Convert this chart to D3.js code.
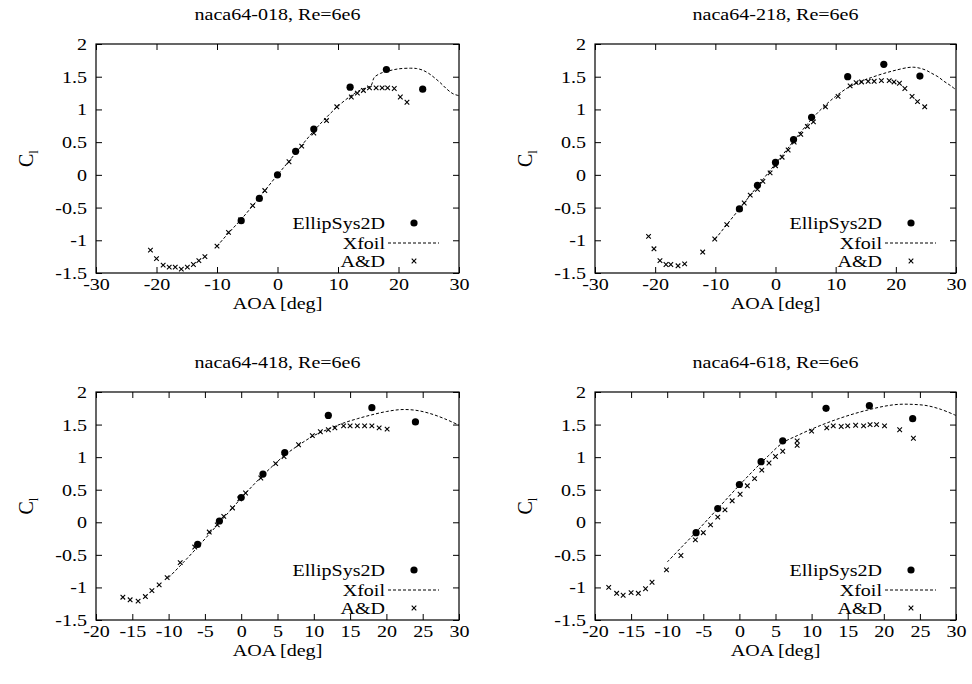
<!DOCTYPE html>
<html>
<head>
<meta charset="utf-8">
<script src="https://cdn.jsdelivr.net/npm/d3@7"></script>
<style>
  html, body { margin: 0; padding: 0; background: #fff; }
  svg text { font-family: "Liberation Serif", "Times New Roman", Times, serif !important; fill: #000; }
</style>
</head>
<body>
<svg id="chart" width="972" height="684"></svg>
<script>
// ---------------- DATA ----------------
const titles = ["naca64-018, Re=6e6", "naca64-218, Re=6e6", "naca64-418, Re=6e6", "naca64-618, Re=6e6"];
const xTicksTop = [-30, -20, -10, 0, 10, 20, 30];
const xTicksBottom = [-20, -15, -10, -5, 0, 5, 10, 15, 20, 25, 30];
const yTicks = [-1.5, -1, -0.5, 0, 0.5, 1, 1.5, 2];
const legendLabels = ["EllipSys2D", "Xfoil", "A&D"];

// EllipSys2D (filled dots)
const aoaEllip = [-6, -3, 0, 3, 6, 12, 18, 24];
const clEllip018 = [-0.70, -0.36, 0.00, 0.36, 0.70, 1.34, 1.61, 1.31];
const clEllip218 = [-0.52, -0.16, 0.19, 0.54, 0.88, 1.50, 1.69, 1.51];
const clEllip418 = [-0.34, 0.02, 0.38, 0.74, 1.07, 1.64, 1.76, 1.54];
const clEllip618 = [-0.16, 0.21, 0.58, 0.93, 1.25, 1.75, 1.79, 1.59];

// Xfoil (dashed line)
const aoaXfoil018 = [-10, -8, -6, -4, -2, 0, 2, 4, 6, 8, 10, 12, 13, 14, 15, 15.5, 16, 17, 18, 20, 22, 23, 24, 25, 26, 27, 28, 29, 30];
const clXfoil018 = [-1.09, -0.88, -0.68, -0.46, -0.23, 0.00, 0.22, 0.45, 0.67, 0.87, 1.05, 1.20, 1.26, 1.31, 1.34, 1.37, 1.49, 1.55, 1.58, 1.62, 1.63, 1.625, 1.60, 1.55, 1.48, 1.40, 1.31, 1.24, 1.21];
const aoaXfoil218 = [-10, -8, -6, -4, -2, 0, 2, 4, 6, 8, 10, 12, 14, 16, 18, 20, 22, 23, 24, 25, 26, 27, 28, 29, 30];
const clXfoil218 = [-0.98, -0.75, -0.52, -0.29, -0.06, 0.17, 0.40, 0.63, 0.85, 1.04, 1.20, 1.33, 1.42, 1.49, 1.55, 1.60, 1.64, 1.645, 1.63, 1.60, 1.55, 1.50, 1.43, 1.37, 1.30];
const aoaXfoil418 = [-10, -8, -6, -4, -2, 0, 2, 4, 6, 8, 10, 12, 14, 16, 18, 20, 22, 24, 26, 28, 30];
const clXfoil418 = [-0.85, -0.62, -0.38, -0.13, 0.12, 0.37, 0.61, 0.83, 1.03, 1.19, 1.33, 1.43, 1.52, 1.59, 1.65, 1.70, 1.73, 1.72, 1.67, 1.59, 1.49];
const aoaXfoil618 = [-10, -8, -6, -4, -2, 0, 2, 4, 6, 8, 10, 12, 14, 16, 18, 20, 22, 24, 26, 28, 30];
const clXfoil618 = [-0.61, -0.38, -0.15, 0.09, 0.33, 0.57, 0.80, 1.02, 1.22, 1.33, 1.43, 1.52, 1.60, 1.67, 1.73, 1.78, 1.81, 1.81, 1.79, 1.73, 1.64];

// A&D experimental (crosses)
const aoaAD018 = [-21, -20, -18.9, -17.9, -16.9, -15.9, -14.9, -13.9, -13, -12, -10, -8.1, -6.1, -4.1, -2.1, 0, 1.9, 4, 6, 8.1, 9.8, 12.2, 13.2, 14.2, 15.2, 16.3, 17.3, 18.2, 19.3, 20.3, 21.4];
const clAD018 = [-1.15, -1.28, -1.38, -1.41, -1.41, -1.44, -1.41, -1.37, -1.31, -1.25, -1.09, -0.88, -0.69, -0.47, -0.24, 0.00, 0.20, 0.44, 0.64, 0.83, 1.04, 1.19, 1.25, 1.29, 1.33, 1.33, 1.33, 1.33, 1.32, 1.19, 1.11];
const aoaAD218 = [-21.1, -20.2, -19.2, -18.2, -17.4, -16.2, -15.1, -12.1, -10.1, -8.1, -5.9, -5.2, -4.2, -3, -2.1, -0.9, 0, 1.1, 2.1, 3.1, 4.2, 5.3, 6.3, 8.3, 10.4, 12.4, 13.4, 14.3, 15.4, 16.4, 17.6, 18.9, 19.7, 20.6, 21.5, 22.7, 23.6, 24.8];
const clAD218 = [-0.94, -1.13, -1.31, -1.37, -1.37, -1.39, -1.36, -1.18, -0.98, -0.76, -0.52, -0.43, -0.31, -0.22, -0.10, 0.03, 0.14, 0.27, 0.38, 0.50, 0.62, 0.74, 0.81, 1.04, 1.20, 1.36, 1.41, 1.42, 1.43, 1.43, 1.44, 1.44, 1.42, 1.40, 1.32, 1.20, 1.12, 1.04];
const aoaAD418 = [-16.3, -15.3, -14.2, -13.2, -12.3, -11.3, -10.2, -8.4, -6.4, -4.4, -3.3, -2.4, -1.2, -0.2, 0.6, 2.7, 4.75, 5.9, 7.9, 9.8, 10.9, 12.0, 12.9, 14.1, 15.0, 16.0, 17.0, 18.0, 19.0, 20.1];
const clAD418 = [-1.15, -1.19, -1.21, -1.14, -1.05, -0.96, -0.85, -0.62, -0.38, -0.15, -0.04, 0.09, 0.22, 0.36, 0.45, 0.68, 0.90, 1.01, 1.19, 1.33, 1.39, 1.42, 1.45, 1.48, 1.48, 1.48, 1.48, 1.48, 1.45, 1.43];
const aoaAD618 = [-18.1, -17, -16.1, -15, -14, -13, -12.1, -10.1, -8.1, -6.1, -5, -4, -3, -2, -1, 0.1, 1.1, 2.1, 3.1, 4.1, 5, 6, 8, 8, 10, 12.1, 13, 14.1, 15, 16.1, 17.2, 18.1, 19, 20.1, 22.2, 24.1];
const clAD618 = [-1.00, -1.09, -1.12, -1.08, -1.09, -1.02, -0.92, -0.73, -0.51, -0.27, -0.16, -0.04, 0.08, 0.19, 0.33, 0.43, 0.56, 0.67, 0.80, 0.91, 1.01, 1.09, 1.25, 1.18, 1.40, 1.45, 1.48, 1.47, 1.48, 1.49, 1.48, 1.50, 1.50, 1.48, 1.42, 1.29];

// ---------------- LAYOUT ----------------
const panels = [
  { left: 96, top: 44, right: 459, bottom: 273, xDomain: [-30, 30], xTicks: xTicksTop,
    ellip: clEllip018, xfA: aoaXfoil018, xfC: clXfoil018, adA: aoaAD018, adC: clAD018 },
  { left: 595, top: 44, right: 956, bottom: 273, xDomain: [-30, 30], xTicks: xTicksTop,
    ellip: clEllip218, xfA: aoaXfoil218, xfC: clXfoil218, adA: aoaAD218, adC: clAD218 },
  { left: 96, top: 392, right: 459, bottom: 620, xDomain: [-20, 30], xTicks: xTicksBottom,
    ellip: clEllip418, xfA: aoaXfoil418, xfC: clXfoil418, adA: aoaAD418, adC: clAD418 },
  { left: 595, top: 392, right: 956, bottom: 620, xDomain: [-20, 30], xTicks: xTicksBottom,
    ellip: clEllip618, xfA: aoaXfoil618, xfC: clXfoil618, adA: aoaAD618, adC: clAD618 }
];

const svg = d3.select("#chart");
const FS = 17;       // font size
const SX = 1.18;     // horizontal stretch of text (reference glyphs are wide)
const tickLen = 6;
const FONT = "'Liberation Serif', 'Times New Roman', Times, serif";

function stretchedText(parent, x, y, str, anchor, size) {
  return parent.append("text")
    .attr("transform", `translate(${x},${y}) scale(${SX},1)`)
    .attr("text-anchor", anchor)
    .style("font-size", (size || FS) + "px")
    .style("font-family", FONT)
    .text(str);
}

panels.forEach((p, i) => {
  const x = d3.scaleLinear().domain(p.xDomain).range([p.left, p.right]);
  const y = d3.scaleLinear().domain([-1.5, 2]).range([p.bottom, p.top]);
  const g = svg.append("g");

  const clipId = "clip" + i;
  svg.append("clipPath").attr("id", clipId).append("rect")
    .attr("x", p.left).attr("y", p.top).attr("width", p.right - p.left).attr("height", p.bottom - p.top);

  const fmt = d => String(d);
  const xb = g.append("g").attr("transform", `translate(0,${p.bottom})`)
    .call(d3.axisBottom(x).tickValues(p.xTicks).tickSizeInner(-tickLen).tickSizeOuter(0).tickPadding(5).tickFormat(fmt));
  g.append("g").attr("transform", `translate(0,${p.top})`)
    .call(d3.axisTop(x).tickValues(p.xTicks).tickSizeInner(-tickLen).tickSizeOuter(0).tickFormat(""));
  const yl = g.append("g").attr("transform", `translate(${p.left},0)`)
    .call(d3.axisLeft(y).tickValues(yTicks).tickSizeInner(-tickLen).tickSizeOuter(0).tickPadding(9).tickFormat(fmt));
  g.append("g").attr("transform", `translate(${p.right},0)`)
    .call(d3.axisRight(y).tickValues(yTicks).tickSizeInner(-tickLen).tickSizeOuter(0).tickFormat(""));
  g.selectAll(".domain").remove();
  g.selectAll(".tick line").attr("stroke", "#000").attr("stroke-width", 1);
  g.selectAll("g").attr("font-family", null).attr("font-size", null);
  g.selectAll(".tick text").style("font-size", FS + "px").style("font-family", FONT).attr("fill", "#000");
  xb.selectAll(".tick text").attr("transform", `scale(${SX},1)`);
  yl.selectAll(".tick text").attr("x", -9 / SX).attr("transform", `scale(${SX},1)`);

  // frame
  g.append("rect").attr("x", p.left).attr("y", p.top)
    .attr("width", p.right - p.left).attr("height", p.bottom - p.top)
    .attr("fill", "none").attr("stroke", "#000").attr("stroke-width", 1.2);

  // title, x label
  stretchedText(g, (p.left + p.right) / 2, p.top - 24, titles[i], "middle");
  stretchedText(g, (p.left + p.right) / 2, p.bottom + 36, "AOA [deg]", "middle");

  // y label
  const ylab = g.append("text").attr("transform", `translate(${p.left - 63},${(p.top + p.bottom) / 2}) rotate(-90)`)
    .attr("text-anchor", "middle").style("font-size", "20px").style("font-family", FONT);
  ylab.append("tspan").text("C");
  ylab.append("tspan").attr("dy", 5).style("font-size", "13px").text("l");

  const plot = g.append("g").attr("clip-path", `url(#${clipId})`);

  // Xfoil dashed line
  const line = d3.line().x(d => x(d[0])).y(d => y(d[1])).curve(d3.curveCatmullRom);
  plot.append("path").datum(d3.zip(p.xfA, p.xfC))
    .attr("d", line).attr("fill", "none").attr("stroke", "#000").attr("stroke-width", 1)
    .attr("stroke-dasharray", "3,2");

  // A&D crosses
  const cs = 2.3;
  plot.selectAll(".cross").data(d3.zip(p.adA, p.adC)).enter().append("path")
    .attr("d", d => { const cx = x(d[0]), cy = y(d[1]);
      return `M${cx - cs},${cy - cs}L${cx + cs},${cy + cs}M${cx - cs},${cy + cs}L${cx + cs},${cy - cs}`; })
    .attr("stroke", "#000").attr("stroke-width", 1.1).attr("fill", "none");

  // EllipSys2D dots
  plot.selectAll(".dot").data(d3.zip(aoaEllip, p.ellip)).enter().append("circle")
    .attr("cx", d => x(d[0])).attr("cy", d => y(d[1])).attr("r", 3.6).attr("fill", "#000");

  // legend
  const lx = p.right - 74;
  const rows = [p.bottom - 50, p.bottom - 30, p.bottom - 12];
  legendLabels.forEach((lab, k) => {
    stretchedText(g, lx, rows[k] + 6, lab, "end");
  });
  g.append("circle").attr("cx", p.right - 45).attr("cy", rows[0]).attr("r", 3.6).attr("fill", "#000");
  g.append("line").attr("x1", p.right - 71).attr("x2", p.right - 20).attr("y1", rows[1]).attr("y2", rows[1])
    .attr("stroke", "#000").attr("stroke-width", 1).attr("stroke-dasharray", "3,2");
  const lcx = p.right - 45, lcy = rows[2];
  g.append("path").attr("d", `M${lcx - cs},${lcy - cs}L${lcx + cs},${lcy + cs}M${lcx - cs},${lcy + cs}L${lcx + cs},${lcy - cs}`)
    .attr("stroke", "#000").attr("stroke-width", 1.1);
});
</script>
</body>
</html>
